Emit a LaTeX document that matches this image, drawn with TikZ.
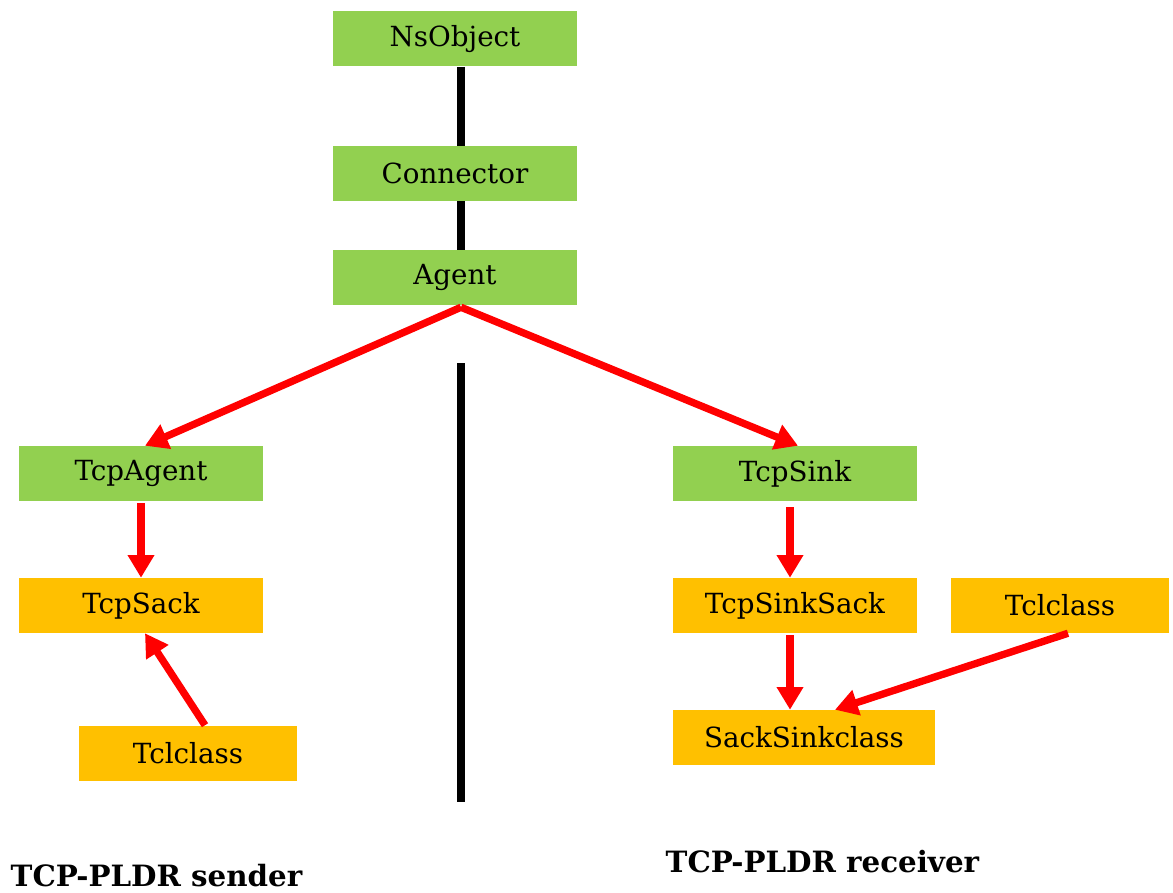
\documentclass[tikz,border=0pt]{standalone}
\usepackage{fontspec}
\setmainfont{DejaVu Serif}
\usetikzlibrary{arrows.meta}
\definecolor{boxgreen}{HTML}{92D050}
\definecolor{boxorange}{HTML}{FFC000}
\tikzset{
  greenbox/.style={fill=boxgreen,minimum width=244*0.75pt,minimum height=55*0.75pt,inner sep=0pt,font=\fontsize{20.8}{24}\selectfont},
  orangebox/.style={fill=boxorange,minimum height=55*0.75pt,inner sep=0pt,font=\fontsize{20.8}{24}\selectfont},
  inherit/.style={draw=red,line width=5.5pt,-{Triangle[length=17pt,width=19pt]}},
  tree/.style={draw=black,line width=6pt},
  title/.style={font=\bfseries\fontsize{22}{26}\selectfont,anchor=west}
}
\begin{document}
\begin{tikzpicture}[x=0.75pt,y=-0.75pt]
      \useasboundingbox (0,0) rectangle (1173,892);
      \draw
        (455,39) node[greenbox] (nsobject){NsObject}
        (455,173.5) node[greenbox] (connector){Connector}
        (455,277.5) node[greenbox] (agent){Agent}
        (141,473.5) node[greenbox] (tcpagent){TcpAgent}
        (795,473.5) node[greenbox] (tcpsink){TcpSink}
        (141,605.5) node[orangebox,minimum width=244*0.75pt] (tcpsack){TcpSack}
        (188,753) node[orangebox,minimum width=218*0.75pt] (tclleft){Tclclass}
        (795,605.5) node[orangebox,minimum width=244*0.75pt] (tcpsinksack){TcpSinkSack}
        (1060,605.5) node[orangebox,minimum width=218*0.75pt] (tclright){Tclclass}
        (804,737.5) node[orangebox,minimum width=262*0.75pt] (sacksink){SackSinkclass};
      \coordinate (divtop) at (461,363);
      \coordinate (divbot) at (461,802);
      \node[title] (sender) at (6,876) {TCP-PLDR sender};
      \node[title] (receiver) at (661,862) {TCP-PLDR receiver};
      \begin{scope}[tree]
        \draw ([xshift=6*0.75pt]nsobject.south) to ([xshift=6*0.75pt]connector.north);
        \draw ([xshift=6*0.75pt]connector.south) to ([xshift=6*0.75pt]agent.north);
        \draw (divtop) to (divbot);
      \end{scope}
      \begin{scope}[inherit]
        \draw ([xshift=6*0.75pt,yshift=-2*0.75pt]agent.south) to ([xshift=4*0.75pt]tcpagent.north);
        \draw ([xshift=6*0.75pt,yshift=-2*0.75pt]agent.south) to ([xshift=3*0.75pt]tcpsink.north);
        \draw ([yshift=-2*0.75pt]tcpagent.south) to (tcpsack.north);
        \draw ([xshift=17*0.75pt]tclleft.north) to ([xshift=4*0.75pt]tcpsack.south);
        \draw ([xshift=-5*0.75pt,yshift=-6*0.75pt]tcpsink.south) to ([xshift=-5*0.75pt]tcpsinksack.north);
        \draw ([xshift=-5*0.75pt,yshift=-2*0.75pt]tcpsinksack.south) to ([xshift=-14*0.75pt]sacksink.north);
        \draw ([xshift=8*0.75pt]tclright.south) to ([xshift=31*0.75pt]sacksink.north);
      \end{scope}
    \end{tikzpicture}
\end{document}
